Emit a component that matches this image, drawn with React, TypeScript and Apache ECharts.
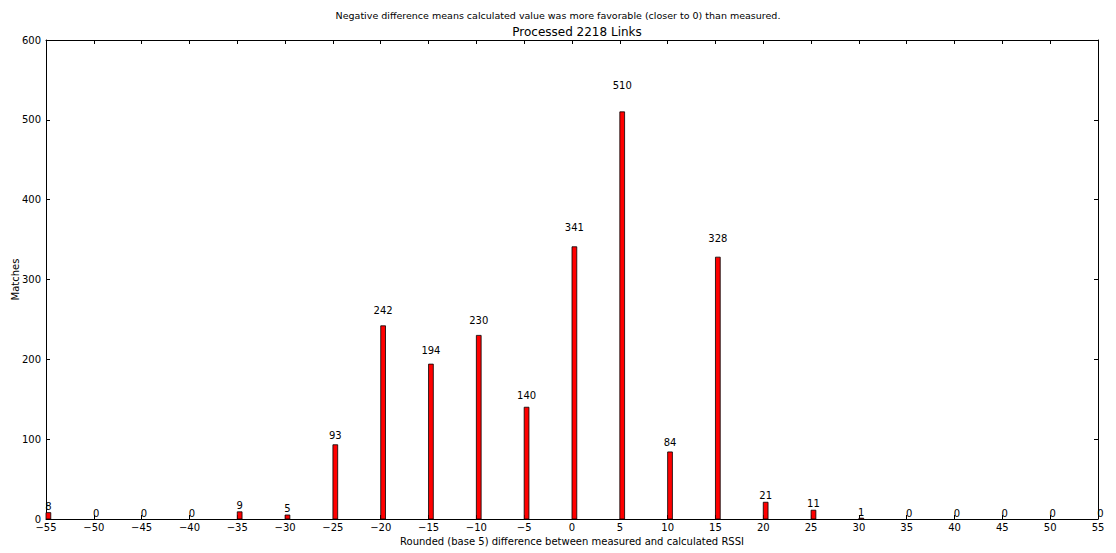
import React, { useEffect, useRef } from "react";
import * as echarts from "echarts";

const diffs = [-55, -50, -45, -40, -35, -30, -25, -20, -15, -10, -5, 0, 5, 10, 15, 20, 25, 30, 35, 40, 45, 50, 55];
const matches = [8, 0, 0, 0, 9, 5, 93, 242, 194, 230, 140, 341, 510, 84, 328, 21, 11, 1, 0, 0, 0, 0, 0];
const barWidthUnits = 0.5;
const FONT = "DejaVu Sans";

export default function App() {
  const ref = useRef<HTMLDivElement>(null);
  useEffect(() => {
    if (!ref.current) return;
    const chart = echarts.init(ref.current, undefined, { renderer: "svg" });
    const minus = (v: number) => String(v).replace("-", "\u2212");
    const axisLine = { show: true, onZero: false, lineStyle: { color: "#000", width: 1 } };
    chart.setOption({
      animation: false,
      backgroundColor: "#fff",
      textStyle: { fontFamily: FONT },
      title: [
        {
          text: "Negative difference means calculated value was more favorable (closer to 0) than measured.",
          left: "center",
          top: 5,
          textStyle: { fontFamily: FONT, fontSize: 9.5, fontWeight: "normal", color: "#000" },
        },
        {
          text: "Processed 2218 Links",
          left: 572,
          textAlign: "center",
          top: 21,
          textStyle: { fontFamily: FONT, fontSize: 12, fontWeight: "normal", color: "#000" },
        },
      ],
      grid: { left: 46, right: 18, top: 40, bottom: 34, outerBoundsMode: "none", containLabel: false },
      xAxis: [
        {
          type: "value",
          min: -55,
          max: 55,
          interval: 5,
          position: "bottom",
          axisLine,
          axisTick: { show: true, inside: true, length: 4, lineStyle: { color: "#000" } },
          axisLabel: { color: "#000", fontSize: 10, fontFamily: FONT, margin: 3, formatter: minus },
          splitLine: { show: false },
          name: "Rounded (base 5) difference between measured and calculated RSSI",
          nameLocation: "middle",
          nameGap: 16,
          nameTextStyle: { color: "#000", fontSize: 10, fontFamily: FONT },
        },
        {
          type: "value",
          min: -55,
          max: 55,
          interval: 5,
          position: "top",
          axisLine,
          axisTick: { show: true, inside: true, length: 4, lineStyle: { color: "#000" } },
          axisLabel: { show: false },
          splitLine: { show: false },
        },
      ],
      yAxis: [
        {
          type: "value",
          min: 0,
          max: 600,
          interval: 100,
          position: "left",
          axisLine,
          axisTick: { show: true, inside: true, length: 4, lineStyle: { color: "#000" } },
          axisLabel: { color: "#000", fontSize: 10, fontFamily: FONT, margin: 5 },
          splitLine: { show: false },
          name: "Matches",
          nameLocation: "middle",
          nameGap: 26,
          nameMoveOverlap: false,
          nameTextStyle: { color: "#000", fontSize: 10, fontFamily: FONT },
        },
        {
          type: "value",
          min: 0,
          max: 600,
          interval: 100,
          position: "right",
          axisLine,
          axisTick: { show: true, inside: true, length: 4, lineStyle: { color: "#000" } },
          axisLabel: { show: false },
          splitLine: { show: false },
        },
      ],
      series: [
        {
          type: "custom",
          clip: false,
          data: diffs.map((d, i) => [d, matches[i]]),
          renderItem: (params: any, api: any) => {
            const x = api.value(0);
            const y = api.value(1);
            const p0 = api.coord([x, 0]);
            const p1 = api.coord([x + barWidthUnits, y]);
            const pt = api.coord([x + barWidthUnits / 2, y * 1.05]);
            const children: any[] = [];
            if (y > 0) {
              children.push({
                type: "rect",
                shape: { x: p0[0], y: p1[1], width: p1[0] - p0[0], height: p0[1] - p1[1] },
                style: { fill: "#ff0000", stroke: "#000", lineWidth: 0.8 },
              });
            }
            children.push({
              type: "text",
              x: pt[0],
              y: pt[1] - 1,
              style: {
                text: String(y),
                fill: "#000",
                fontSize: 10,
                fontFamily: FONT,
                align: "center",
                verticalAlign: "bottom",
              },
            });
            return { type: "group", children };
          },
        },
      ],
    });
    return () => chart.dispose();
  }, []);
  return (
    <div
      ref={ref}
      style={{ position: "fixed", left: 0, top: 0, width: 1116, height: 553, background: "#fff" }}
    />
  );
}
